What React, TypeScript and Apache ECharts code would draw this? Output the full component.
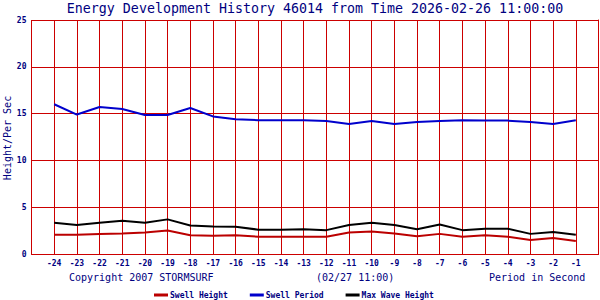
import React, { useEffect, useRef } from "react";
import * as echarts from "echarts";

const hours = [-24, -23, -22, -21, -20, -19, -18, -17, -16, -15, -14, -13, -12, -11, -10, -9, -8, -7, -6, -5, -4, -3, -2, -1];
const swellHeight = [2.05, 2.05, 2.15, 2.2, 2.3, 2.5, 2.0, 1.95, 2.0, 1.85, 1.85, 1.85, 1.85, 2.3, 2.4, 2.2, 1.9, 2.15, 1.85, 2.0, 1.85, 1.5, 1.7, 1.4];
const swellPeriod = [16.0, 14.9, 15.7, 15.5, 14.85, 14.85, 15.6, 14.7, 14.4, 14.3, 14.3, 14.3, 14.2, 13.9, 14.2, 13.9, 14.1, 14.2, 14.3, 14.25, 14.25, 14.1, 13.9, 14.3];
const maxWaveHeight = [3.35, 3.1, 3.35, 3.55, 3.35, 3.7, 3.05, 2.95, 2.9, 2.6, 2.6, 2.65, 2.55, 3.1, 3.35, 3.1, 2.65, 3.15, 2.55, 2.7, 2.7, 2.15, 2.35, 2.05];

const NAVY = "#000080";
const GRID_RED = "#CC0000";
const MONO = "DejaVu Sans Mono";

export default function App() {
  const ref = useRef<HTMLDivElement>(null);
  useEffect(() => {
    if (!ref.current) return;
    const chart = echarts.init(ref.current, null, { renderer: "svg" });
    const pts = (arr: number[]) => hours.map((h, i) => [h, arr[i]]);
    chart.setOption({
      animation: false,
      backgroundColor: "#ffffff",
      title: {
        text: "Energy Development History 46014 from Time 2026-02-26 11:00:00",
        left: 315,
        textAlign: "center",
        top: 2,
        padding: 0,
        textStyle: { color: NAVY, fontFamily: MONO, fontSize: 13.3, fontWeight: "normal" },
      },
      grid: { left: 31.5, right: 1.5, top: 20, bottom: 46, containLabel: false, outerBoundsMode: "none" },
      legend: {
        left: 154,
        top: 291,
        padding: 0,
        icon: "rect",
        itemWidth: 14,
        itemHeight: 3,
        itemGap: 22,
        textStyle: { color: NAVY, fontFamily: MONO, fontSize: 8, fontWeight: "bold", padding: [0, 0, 0, -3] },
        data: ["Swell Height", "Swell Period", "Max Wave Height"],
      },
      xAxis: {
        type: "value",
        min: -25,
        max: 0,
        interval: 1,
        axisLine: { show: true, lineStyle: { color: GRID_RED, width: 1 } },
        axisTick: { show: false },
        splitLine: { show: true, lineStyle: { color: GRID_RED, width: 1 } },
        axisLabel: {
          color: NAVY,
          fontFamily: MONO,
          fontSize: 8,
          fontWeight: "bold",
          margin: 5,
          formatter: (v: number) => (v <= -25 || v >= 0 ? "" : String(v)),
        },
      },
      yAxis: {
        type: "value",
        min: 0,
        max: 25,
        interval: 5,
        axisLine: { show: true, lineStyle: { color: GRID_RED, width: 1 } },
        axisTick: { show: false },
        splitLine: { show: true, lineStyle: { color: GRID_RED, width: 1 } },
        axisLabel: { color: NAVY, fontFamily: MONO, fontSize: 8, fontWeight: "bold", margin: 5 },
      },
      series: [
        {
          name: "Swell Height",
          type: "line",
          data: pts(swellHeight),
          symbol: "none",
          color: "#BB0000",
          lineStyle: { color: "#BB0000", width: 2 },
        },
        {
          name: "Swell Period",
          type: "line",
          data: pts(swellPeriod),
          symbol: "none",
          color: "#0000CC",
          lineStyle: { color: "#0000CC", width: 2 },
        },
        {
          name: "Max Wave Height",
          type: "line",
          data: pts(maxWaveHeight),
          symbol: "none",
          color: "#000000",
          lineStyle: { color: "#000000", width: 2 },
        },
      ],
      graphic: [
        {
          type: "text",
          x: 7,
          y: 138,
          rotation: Math.PI / 2,
          style: {
            text: "Height/Per Sec",
            fill: NAVY,
            font: `10px ${MONO}`,
            align: "center",
            verticalAlign: "middle",
          },
        },
        {
          type: "text",
          left: 69,
          top: 272,
          style: { text: "Copyright 2007 STORMSURF", fill: NAVY, font: `10px ${MONO}` },
        },
        {
          type: "text",
          left: 316,
          top: 272,
          style: { text: "(02/27 11:00)", fill: NAVY, font: `10px ${MONO}` },
        },
        {
          type: "text",
          left: 489,
          top: 272,
          style: { text: "Period in Second", fill: NAVY, font: `10px ${MONO}` },
        },
      ],
    });
    return () => chart.dispose();
  }, []);
  return <div ref={ref} style={{ width: 600, height: 300, position: "absolute", left: 0, top: 0 }} />;
}
